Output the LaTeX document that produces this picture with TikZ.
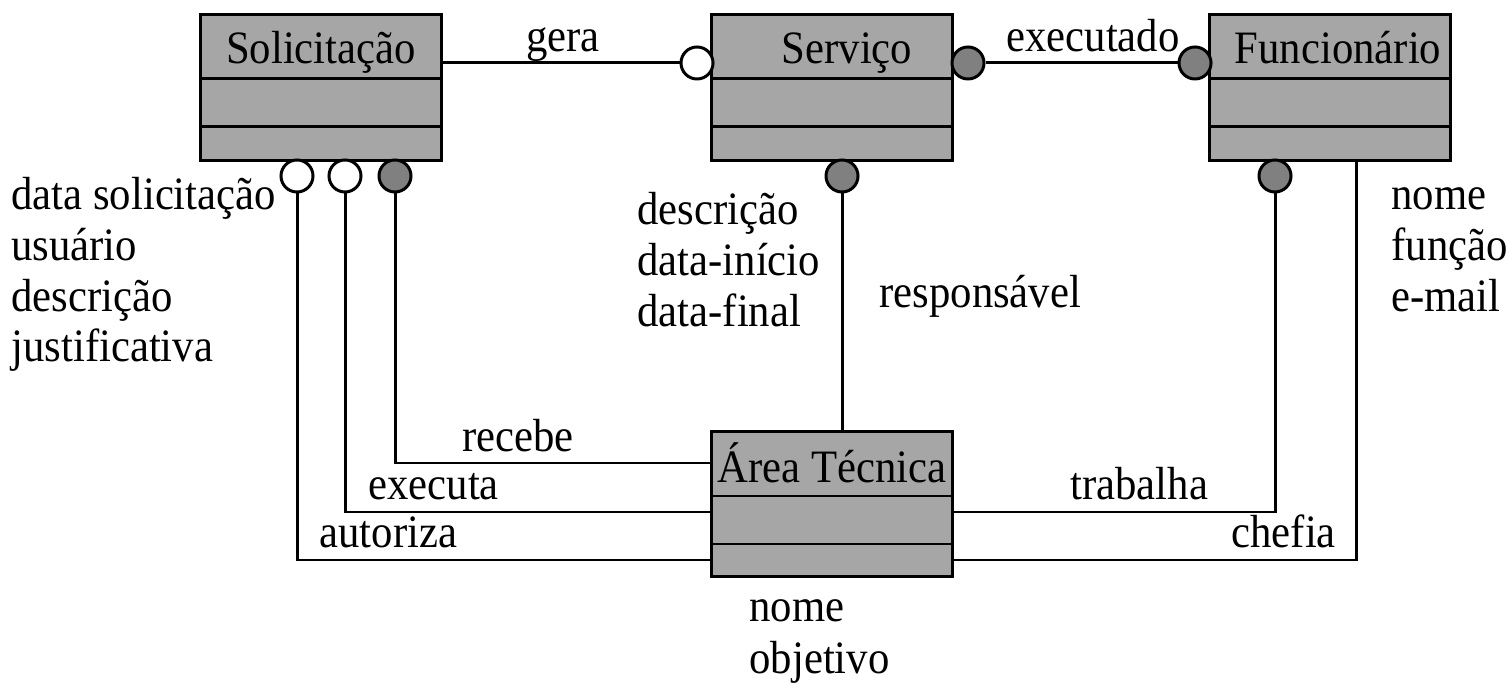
\documentclass[tikz,border=0pt]{standalone}
\usepackage{fontspec}
\setmainfont{Liberation Serif}[FakeStretch=0.92]
\definecolor{boxgray}{HTML}{A6A6A6}
\definecolor{dotgray}{HTML}{808080}
\begin{document}
\begin{tikzpicture}[x=0.01cm,y=-0.01cm,line width=0.85pt,
  cls/.style={draw,fill=boxgray,rectangle,minimum width=2.4cm,inner sep=0pt},
  txt/.style={font=\fontsize{13.2pt}{14.5pt}\selectfont,inner sep=0pt,anchor=base west},
  ttl/.style={txt,anchor=base},
  opn/.style={circle,draw,fill=white,minimum size=0.32cm,inner sep=0pt},
  fil/.style={circle,draw,fill=dotgray,minimum size=0.32cm,inner sep=0pt}]
\useasboundingbox (0,0) rectangle (1510,686);

% classes: header, attribute and operation compartments
\node[cls,minimum height=1.45cm] (sol) at (321,87.5) {};
\draw (sol.west |- 0,79) -- (sol.east |- 0,79);
\draw (sol.west |- 0,127) -- (sol.east |- 0,127);
\node[ttl] (solT) at (321,64) {Solicitação};

\node[cls,minimum height=1.45cm] (ser) at (832,87.5) {};
\draw (ser.west |- 0,79) -- (ser.east |- 0,79);
\draw (ser.west |- 0,127) -- (ser.east |- 0,127);
\node[ttl] (serT) at (847,64) {Serviço};

\node[cls,minimum height=1.45cm] (fun) at (1330,87.5) {};
\draw (fun.west |- 0,79) -- (fun.east |- 0,79);
\draw (fun.west |- 0,127) -- (fun.east |- 0,127);
\node[ttl] (funT) at (1338,64) {Funcionário};

\node[cls,minimum height=1.44cm] (at) at (832,504) {};
\draw (at.west |- 0,496) -- (at.east |- 0,496);
\draw (at.west |- 0,544) -- (at.east |- 0,544);
\node[ttl] (atT) at (832,483) {Área Técnica};

% relationship ends
\node[opn] (cg) at (697,63) {};
\node[fil] (ce1) at (968,63) {};
\node[fil] (ce2) at (1195,63) {};
\node[opn] (s1) at (297,176) {};
\node[opn] (s2) at (345,176) {};
\node[fil] (s3) at (395,176) {};
\node[fil] (sv) at (842,176) {};
\node[fil] (f1) at (1275,176) {};

% relationships
\draw (sol.east |- cg.west) -- (cg.west);
\draw (ce1.east) -- (ce2.west);
\draw (sv.south) -- (at.north -| sv.south);
\draw (s3.south) |- (at.west |- 0,463);
\draw (s2.south) |- (at.west |- 0,512);
\draw (s1.south) |- (at.west |- 0,560);
\draw (at.east |- 0,512) -| (f1.south);
\draw (at.east |- 0,560) -| (fun.south -| 1356,0);

% relationship names
\node[ttl] (lg) at (563,52) {gera};
\node[txt] (le) at (1005,52) {executado};
\node[txt] (lr) at (878,308) {responsável};
\node[txt] (lrc) at (461,452) {recebe};
\node[txt] (lex) at (367,500) {executa};
\node[txt] (lau) at (318,548) {autoriza};
\node[txt] (ltr) at (1069,500) {trabalha};
\node[txt] (lch) at (1230,548) {chefia};

% attribute lists
\node[txt] (a1) at (10,210) {data solicitação};
\node[txt] (a2) at (10,261) {usuário};
\node[txt] (a3) at (10,312) {descrição};
\node[txt] (a4) at (10,362) {justificativa};

\node[txt] (b1) at (636,225) {descrição};
\node[txt] (b2) at (636,276) {data-início};
\node[txt] (b3) at (636,327) {data-final};

\node[txt] (c1) at (1390,210) {nome};
\node[txt] (c2) at (1390,261) {função};
\node[txt] (c3) at (1390,312) {e-mail};

\node[txt] (d1) at (748,622) {nome};
\node[txt] (d2) at (748,673) {objetivo};
\end{tikzpicture}
\end{document}
